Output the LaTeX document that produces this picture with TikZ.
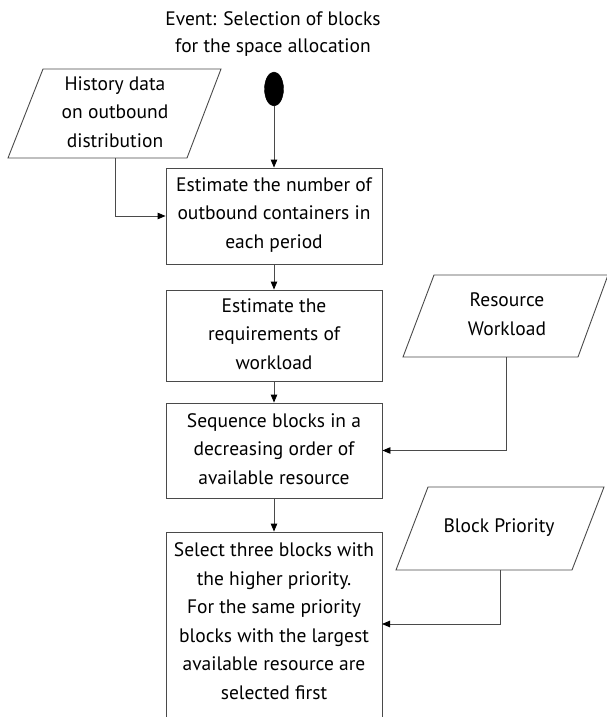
\documentclass[tikz,border=0pt]{standalone}
\usepackage{fontspec}
\setmainfont{PT Sans}
\usetikzlibrary{arrows.meta,shapes.geometric}
\definecolor{linegray}{HTML}{4A4A4A}
\tikzset{
  boxnode/.style={draw=linegray, line width=0.9pt, minimum width=216pt, inner sep=0pt, align=center, text=black},
  txt/.style={align=center, inner sep=0pt, font=\fontsize{19.5}{28.5}\selectfont},
  para/.style={draw=linegray, line width=0.9pt},
  conn/.style={draw=linegray, line width=0.9pt, -{Triangle[length=8pt,width=6.5pt,color=black]}},
  plain/.style={draw=linegray, line width=0.9pt}
}
\begin{document}
\begin{tikzpicture}[x=1pt,y=-1pt]
\useasboundingbox (0,0) rectangle (606,717);

% title
\node[txt, font=\fontsize{19.5}{27}\selectfont] (title) at (273,34) {Event: Selection of blocks\\for the space allocation};
% start event
\node[ellipse, fill=black, draw=black, minimum width=19pt, minimum height=34pt, inner sep=0pt] (ev) at (274,89) {};

% boxes
\node[boxnode, minimum height=96pt] (b1) at (274,216) {};
\node[txt] (b1t) at (274,215) {Estimate the number of\\outbound containers in\\each period};
\node[boxnode, minimum height=91pt] (b2) at (274,335.5) {};
\node[txt] (b2t) at (274,334) {Estimate the\\requirements of\\workload};
\node[boxnode, minimum height=95pt] (b3) at (274,450.5) {};
\node[txt] (b3t) at (274,449) {Sequence blocks in a\\decreasing order of\\available resource};
\node[boxnode, minimum height=268pt] (b4) at (274,666) {};
\node[txt] (b4t) at (274,621) {Select three blocks with\\the higher priority.\\For the same priority\\blocks with the largest\\available resource are\\selected first};

% parallelogram 1
\coordinate (p1tl) at (43,69); \coordinate (p1tr) at (221,69);
\coordinate (p1br) at (187,158); \coordinate (p1bl) at (8,158);
\draw[para] (p1tl) -- (p1tr) -- (p1br) -- (p1bl) -- cycle;
\node[txt] (p1) at (115,112) {History data\\on outbound\\distribution};
\coordinate (p1b) at (115,158);

% parallelogram 2
\coordinate (p2tl) at (434,275); \coordinate (p2tr) at (608,275);
\coordinate (p2br) at (578,357); \coordinate (p2bl) at (403,357);
\draw[para] (p2tl) -- (p2tr) -- (p2br) -- (p2bl) -- cycle;
\node[txt] (p2) at (507,314) {Resource\\Workload};
\coordinate (p2b) at (506,357);

% parallelogram 3
\coordinate (p3tl) at (428,487); \coordinate (p3tr) at (604,487);
\coordinate (p3br) at (572,570); \coordinate (p3bl) at (396,570);
\draw[para] (p3tl) -- (p3tr) -- (p3br) -- (p3bl) -- cycle;
\node[txt] (p3) at (499,528) {Block Priority};
\coordinate (p3b) at (500,570);
\coordinate (b4in) at (382,624);

% connectors
\draw[conn] (ev.south) -- (b1.north);
\draw[conn] (p1b) |- (b1.west);
\draw[conn] (b1.south) -- (b2.north);
\draw[conn] (b2.south) -- (b3.north);
\draw[conn] (b3.south) -- (b4.north);
\draw[conn] (p2b) |- (b3.east);
\draw[conn] (p3b) |- (b4in);
\end{tikzpicture}
\end{document}
